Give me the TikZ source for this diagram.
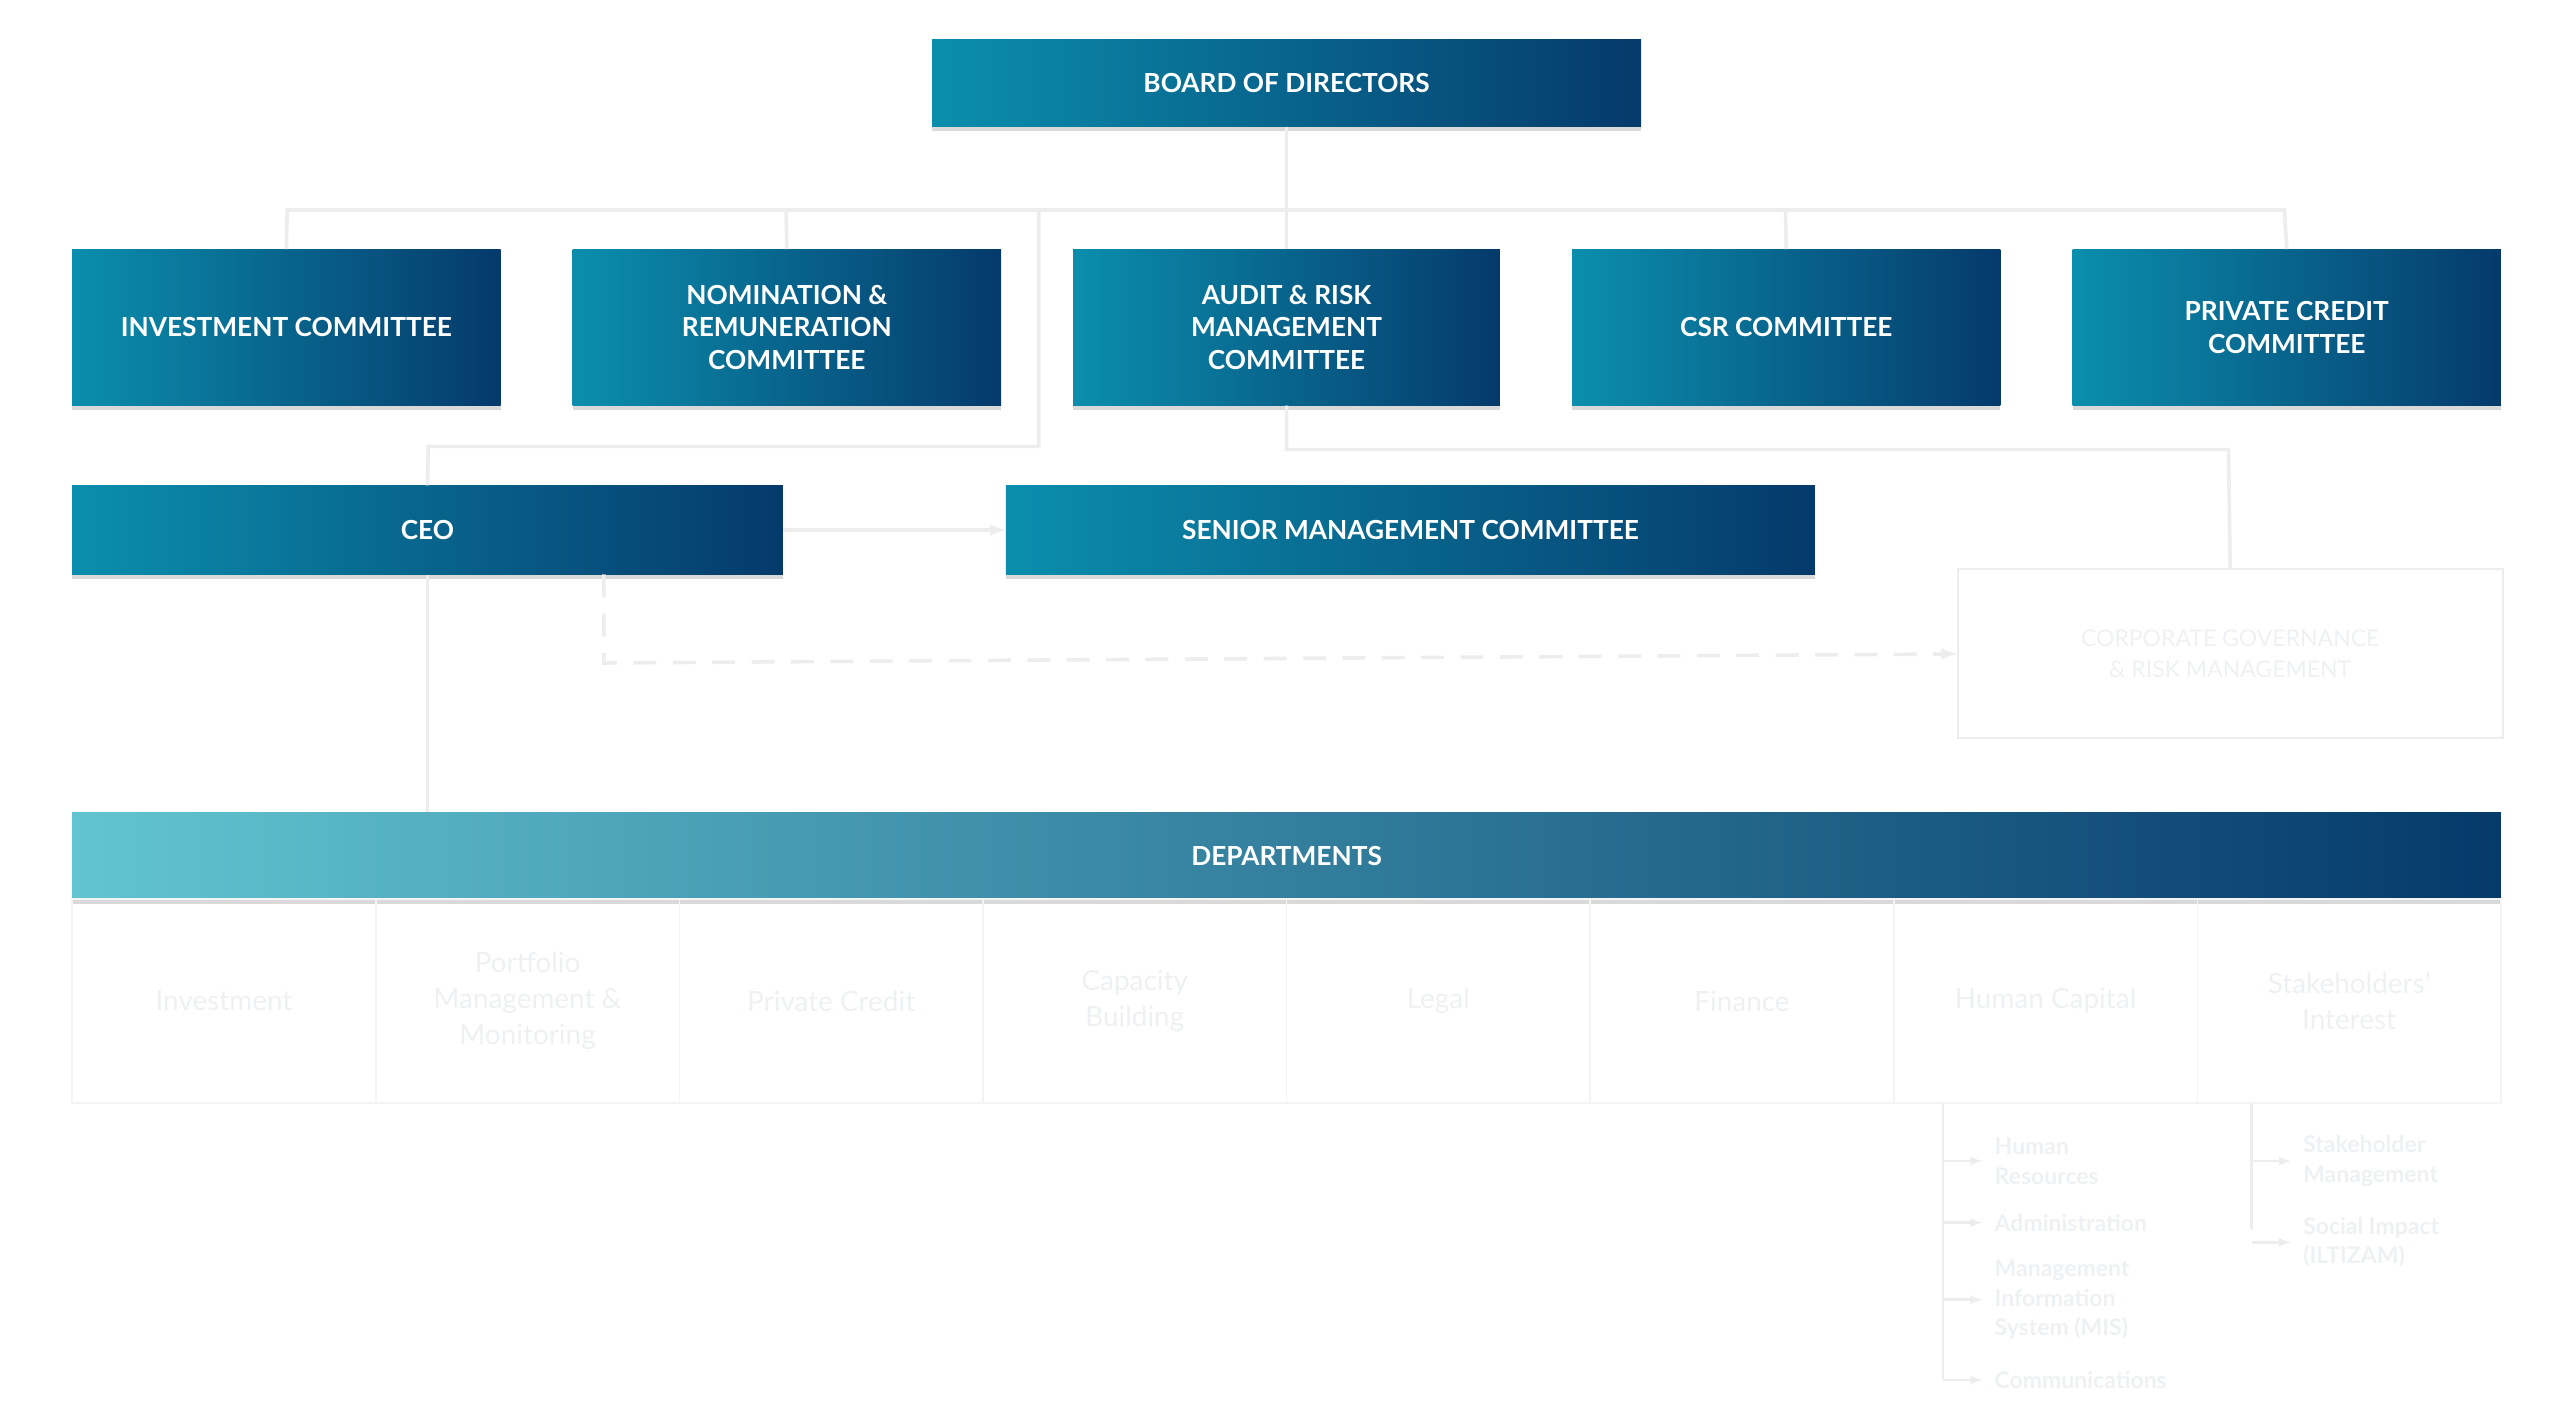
\documentclass[tikz,border=0pt]{standalone}
\usepackage{fontspec}
\setmainfont{Lato}
\usetikzlibrary{shadows}
\definecolor{tealA}{HTML}{0B8EAD}
\definecolor{navyA}{HTML}{053A6B}
\definecolor{lightA}{HTML}{62C4D0}
\definecolor{faint}{HTML}{EEF1F3}
\definecolor{lineC}{HTML}{EDEDED}
\begin{document}
\begin{tikzpicture}[x=1pt,y=-1pt,
 box/.style={draw=none,left color=tealA,right color=navyA,text=white,font=\bfseries\fontsize{16}{20}\selectfont,align=center,inner sep=0pt,
   drop shadow={shadow xshift=0pt,shadow yshift=-3pt,fill=black!25,opacity=0.6}},
 conn/.style={draw=lineC,line width=2.2pt},
 ft/.style={text=faint,font=\fontsize{17}{22}\selectfont,align=center},
 st/.style={text=faint,font=\bfseries\fontsize{14}{18}\selectfont,align=left,anchor=west}]
\useasboundingbox (0,0) rectangle (1560,866.6);
\newcommand{\bx}[6]{\node[box,minimum width=#3-#2,minimum height=#5-#4] (#1) at ({(#2+#3)/2},{(#4+#5)/2}) {#6};}
\bx{board}{568}{1000}{24}{77}{BOARD OF DIRECTORS}
\bx{inv}{44}{305}{152}{247}{INVESTMENT COMMITTEE}
\bx{nom}{349}{610}{152}{247}{NOMINATION \&\\REMUNERATION\\COMMITTEE}
\bx{aud}{654}{914}{152}{247}{AUDIT \& RISK\\MANAGEMENT\\COMMITTEE}
\bx{csr}{958}{1219}{152}{247}{CSR COMMITTEE}
\bx{pc}{1263}{1524}{152}{247}{PRIVATE CREDIT\\COMMITTEE}
\bx{ceo}{44}{477}{296}{350}{CEO}
\bx{smc}{613}{1106}{296}{350}{SENIOR MANAGEMENT COMMITTEE}
\node[box,left color=lightA,right color=navyA,minimum width=1480,minimum height=53] (dep) at (784,521.5) {DEPARTMENTS};
\node[draw=lineC,line width=1.2pt,minimum width=332,minimum height=103,ft,font=\fontsize{14}{19}\selectfont] (cg) at (1359,398.5) {CORPORATE GOVERNANCE\\\& RISK MANAGEMENT};
% connectors
\coordinate (j) at (784,128);
\draw[conn] (board.south) -- (j);
\draw[conn] (inv.north) -- (175,128) -- (1392,128) -- (pc.north);
\draw[conn] (479,128) -- (nom.north);
\draw[conn] (j) -- (aud.north);
\draw[conn] (1088,128) -- (csr.north);
\draw[conn] (633,128) -- (633,272) -- (261,272) -- (ceo.north);
\draw[conn] (aud.south) -- (784,274) -- (1358,274) -- (cg.north);
\draw[conn,-latex] (ceo.east) -- (smc.west);
\draw[conn] (ceo.south) -- (dep.north -| ceo.south);
\draw[conn,dash pattern=on 14pt off 10pt,-latex] (368,350) -- (368,404) -- (cg.west);
% department columns
\foreach \i/\t in {0/Investment,1/{Portfolio\\Management \&\\Monitoring},2/Private Credit,3/{Capacity\\Building},4/Legal,5/Finance,6/Human Capital,7/{Stakeholders'\\Interest}}{
 \node[draw=lineC!60,line width=1pt,minimum width=185,minimum height=124,ft] (c\i) at ({44+185*\i+92.5},610) {\t};}
% sub lists
\draw[conn,line width=1.5pt] (1184,672) -- (1184,841);
\foreach \y/\t in {707.5/{Human\\Resources},745/Administration,792/{Management\\Information\\System (MIS)},841/Communications}{
 \draw[conn,line width=1.5pt,-latex] (1184,\y) -- (1208,\y); \node[st] at (1212,\y) {\t};}
\draw[conn,line width=1.5pt] (1372,672) -- (1372,749);
\foreach \y/\t in {707.5/{Stakeholder\\Management},757/{Social Impact\\(ILTIZAM)}}{
 \draw[conn,line width=1.5pt,-latex] (1372,\y) -- (1396,\y); \node[st] at (1400,\y) {\t};}
\end{tikzpicture}
\end{document}
